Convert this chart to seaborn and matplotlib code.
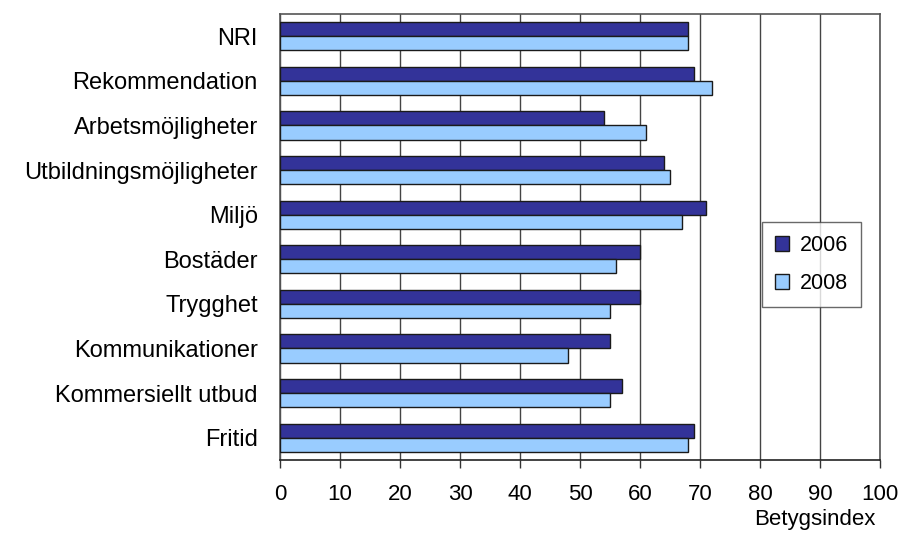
import pandas as pd
import matplotlib.pyplot as plt
import seaborn as sns

# Values
categories = ['NRI', 'Rekommendation', 'Arbetsmöjligheter', 'Utbildningsmöjligheter',
              'Miljö', 'Bostäder', 'Trygghet', 'Kommunikationer',
              'Kommersiellt utbud', 'Fritid']
values_2006 = [68, 69, 54, 64, 71, 60, 60, 55, 57, 69]
values_2008 = [68, 72, 61, 65, 67, 56, 55, 48, 55, 68]
years = ['2006', '2008']
colors = ['#333399', '#99CCFF']

df = pd.DataFrame({
    'Kategori': categories * 2,
    'Betyg': values_2006 + values_2008,
    'År': [years[0]] * len(categories) + [years[1]] * len(categories),
})

sns.set_style('white', {'text.color': 'black', 'xtick.color': 'black', 'ytick.color': 'black'})
plt.rcParams['font.family'] = ['Liberation Sans', 'DejaVu Sans']

fig = plt.figure(figsize=(9.04, 5.37), dpi=100)
ax = fig.add_axes([280 / 904, 1 - 460 / 537, 600 / 904, 446 / 537])

sns.barplot(data=df, x='Betyg', y='Kategori', hue='År', orient='h',
            palette=colors, width=0.63, edgecolor='#1a1a1a', linewidth=1.0,
            saturation=1, ax=ax, zorder=3)

ax.set_xlim(0, 100)
ax.set_xticks(range(0, 101, 10))
ax.set_ylim(len(categories) - 0.5, -0.5)
ax.grid(axis='x', color='#444444', linewidth=1.0, zorder=0)
ax.set_axisbelow(True)
for name, spine in ax.spines.items():
    spine.set_visible(True)
    spine.set_color('#555555')
    spine.set_linewidth(1.2)
ax.spines['bottom'].set_color('#222222')

ax.tick_params(axis='x', direction='out', length=6, width=1, color='#333333',
               labelsize=16, labelcolor='black', pad=11, bottom=True)
ax.tick_params(axis='y', length=0, labelsize=17, labelcolor='black', pad=16)
ax.set_xlabel('')
ax.set_ylabel('')

leg = ax.legend(loc='upper left', bbox_to_anchor=(762 / 904, 1 - 222 / 537),
                bbox_transform=fig.transFigure,
                fontsize=15.5, frameon=True, fancybox=False, edgecolor='#444444',
                handlelength=0.65, handleheight=0.65, handletextpad=0.5,
                labelspacing=0.8, borderpad=0.6, borderaxespad=0)
leg.get_frame().set_linewidth(1.0)
for t in leg.get_texts():
    t.set_color('black')

fig.text(876 / 904, 1 - 520 / 537, 'Betygsindex', ha='right', va='center',
         fontsize=16, color='black')

plt.savefig('out.png', dpi=100)
plt.close()
